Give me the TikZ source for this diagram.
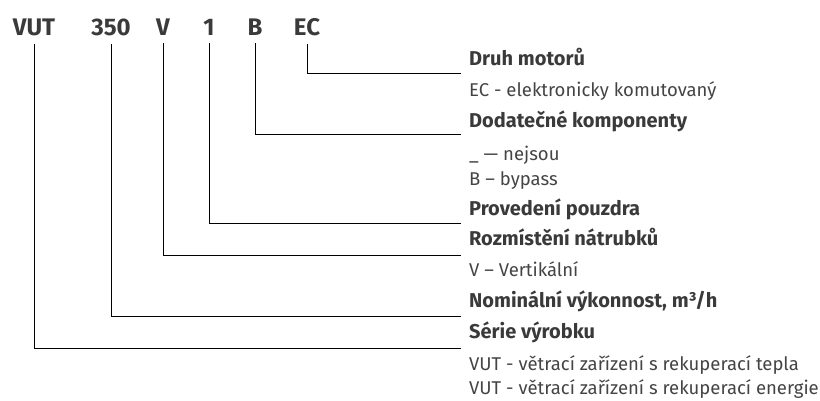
\documentclass[tikz,border=0pt]{standalone}
\usepackage{fontspec}
\setmainfont{Fira Sans}
\definecolor{txt}{HTML}{3A3A3A}
\definecolor{txtl}{HTML}{444444}
\begin{document}
\begin{tikzpicture}[x=1pt,y=-1pt,
  code/.style={font=\bfseries\fontsize{24}{24}\selectfont, text=txt, anchor=base, inner sep=0pt},
  head/.style={font=\bfseries\fontsize{20}{20}\selectfont, text=txt, anchor=base west, inner sep=0pt},
  desc/.style={font=\fontsize{18.5}{18.5}\selectfont, text=txtl, anchor=base west, inner sep=0pt},
  lead/.style={draw=black, line width=0.9pt, shorten <=8pt}]
\useasboundingbox (0,0) rectangle (820,400);
% codes
\node[code] (c1) at (34,35) {VUT};
\node[code] (c2) at (111,35) {350};
\node[code] (c3) at (163,35) {V};
\node[code] (c4) at (209,35) {1};
\node[code] (c5) at (255,35) {B};
\node[code] (c6) at (307,35) {EC};
% texts
\node[head] (h6) at (469,65) {Druh motorů};
\node[desc] (d6) at (469,96) {EC - elektronicky komutovaný};
\node[head] (h5) at (469,127) {Dodatečné komponenty};
\node[desc] (d5a) at (469,160) {\_ — nejsou};
\node[desc] (d5b) at (469,185) {B – bypass};
\node[head] (h4) at (469,215) {Provedení pouzdra};
\node[head] (h3) at (469,245) {Rozmístění nátrubků};
\node[desc] (d3) at (469,276) {V – Vertikální};
\node[head] (h2) at (469,307) {Nominální výkonnost, m³/h};
\node[head] (h1) at (469,338) {Série výrobku};
\node[desc] (d1a) at (469,370) {VUT - větrací zařízení s rekuperací tepla};
\node[desc] (d1b) at (469,394) {VUT - větrací zařízení s rekuperací energie};
% leader ends
\coordinate (e6) at (461,73.5);
\coordinate (e5) at (461,134.5);
\coordinate (e4) at (461,223.5);
\coordinate (e3) at (461,255);
\coordinate (e2) at (461,316.5);
\coordinate (e1) at (461,348.5);
\draw[lead] (c6.south) |- (e6);
\draw[lead] (c5.south) |- (e5);
\draw[lead] (c4.south) |- (e4);
\draw[lead] (c3.south) |- (e3);
\draw[lead] (c2.south) |- (e2);
\draw[lead] (c1.south) |- (e1);
\end{tikzpicture}
\end{document}
